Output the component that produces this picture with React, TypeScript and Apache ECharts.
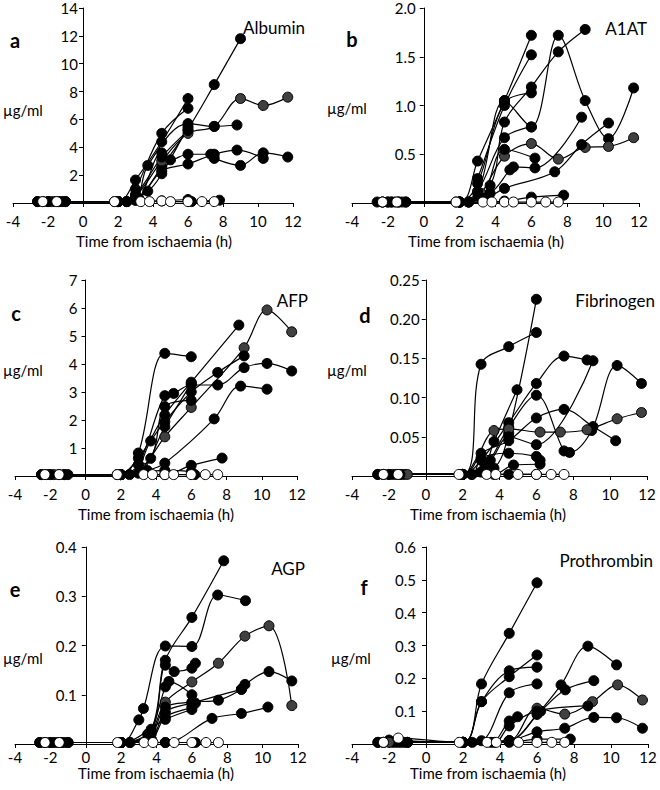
import React, { useEffect, useRef } from "react";
import * as echarts from "echarts";

type Pt = [number, number];

// ---- data (time from ischaemia in h, concentration in µg/ml) ----
const timeTicks = [-4, -2, 0, 2, 4, 6, 8, 10, 12];

const albuminLines: Pt[][] = [
  [[-2.6, 0.1], [-1.4, 0.1], [2, 0.1], [3, 1.65], [4.5, 4.4], [6, 7.5]],
  [[-2.3, 0.1], [-1, 0.1], [2.5, 0.1], [3, 1.0], [4.5, 5.0], [6, 6.8]],
  [[-2, 0.1], [1.8, 0.1], [3, 0.3], [4.5, 2.6], [6, 5.3], [7.5, 8.5], [9, 11.8]],
  [[-1.8, 0.1], [2, 0.1], [3, 0.5], [4.5, 3.0], [6, 5.0], [7.5, 5.5], [9, 7.5], [10.3, 7.0], [11.7, 7.6]],
  [[-1.6, 0.1], [2, 0.1], [3, 0.2], [3.7, 2.7], [6, 5.7], [7.5, 5.5], [8.8, 5.6]],
  [[-1.2, 0.1], [2.5, 0.1], [3.2, 0.3], [4.5, 3.6], [5, 3.1], [6, 3.5], [7.3, 3.5], [7.5, 3.2], [9, 2.7], [10.3, 3.6], [11.7, 3.3]],
  [[-2.6, 0.1], [2, 0.1], [3, 0.2], [4.5, 2.3], [6, 2.8], [7.5, 3.5], [8.8, 3.8], [10.3, 3.2]],
  [[-2, 0.1], [2, 0.1], [3.7, 0.85], [4.5, 2.1], [6, 5.5]],
  [[-1.4, 0.1], [2, 0.1], [3, 0.6], [4.5, 3.3], [6, 5.2]],
  [[-1, 0.1], [2.5, 0.1], [4.5, 0.15], [6, 0.25], [6.2, 0.1], [7.8, 0.2]],
];
const albuminGrey = [3];
const albuminOpen: Pt[] = [[-2.3, 0.1], [-1.5, 0.1], [1.8, 0.1], [3.3, 0.1], [3.8, 0.1], [4.5, 0.15], [5, 0.1], [6, 0.1], [6.8, 0.1], [7.5, 0.1]];

const a1atLines: Pt[][] = [
  [[-2.6, 0.01], [-1.4, 0.01], [2, 0.01], [3, 0.43], [4.5, 1.05], [6, 1.72]],
  [[-2.3, 0.01], [-1, 0.01], [2.5, 0.01], [3, 0.25], [4.5, 1.0], [6, 1.52]],
  [[-2, 0.01], [1.8, 0.01], [3, 0.1], [4.5, 1.05], [6, 0.78], [7.5, 1.72], [9, 1.05], [10.3, 0.66], [11.7, 1.18]],
  [[-1.8, 0.01], [2, 0.01], [3, 0.2], [4.5, 1.03], [6, 1.13]],
  [[-1.6, 0.01], [2, 0.01], [3.7, 0.18], [4.5, 0.83], [6, 1.19], [7.5, 1.55], [9, 1.78]],
  [[-1.2, 0.01], [2.5, 0.01], [3.2, 0.1], [4.5, 0.48], [6, 0.61], [7.5, 0.45], [9, 0.57], [10.3, 0.58], [11.7, 0.67]],
  [[-2, 0.01], [2, 0.01], [3.2, 0.05], [4.5, 0.55], [6.2, 0.46]],
  [[-1.4, 0.01], [2, 0.01], [3.7, 0.1], [4.8, 0.34], [5, 0.37], [6.2, 0.36], [8.8, 0.88]],
  [[-1, 0.01], [2, 0.01], [3.5, 0.05], [4.5, 0.15], [7.3, 0.32], [8.8, 0.6], [10.3, 0.82]],
  [[-1.8, 0.01], [2, 0.01], [3, 0.12], [4.5, 0.67], [6, 0.78]],
  [[-2.3, 0.01], [2.5, 0.01], [4.5, 0.02], [6, 0.06], [7.8, 0.08]],
];
const a1atGrey = [5];
const a1atOpen: Pt[] = [[-2.3, 0.01], [-1.5, 0.01], [1.8, 0.01], [3.3, 0.01], [3.8, 0.01], [4.5, 0.01], [5, 0.01], [6, 0.01], [6.8, 0.01], [7.5, 0.01]];

const afpLines: Pt[][] = [
  [[-2.5, 0.05], [-1.5, 0.05], [2, 0.05], [3, 0.82], [4.5, 4.38], [6, 4.26]],
  [[-2, 0.05], [1.8, 0.05], [3, 0.63], [4.5, 2.18], [6, 3.35], [8.7, 5.39]],
  [[-1.8, 0.05], [2, 0.05], [3.2, 0.3], [4.5, 1.4], [6, 2.45], [9, 4.58], [10.3, 5.93], [11.7, 5.15]],
  [[-1.2, 0.05], [2.5, 0.05], [3.7, 1.25], [4.5, 1.94], [6, 3.0], [7.5, 3.7], [9, 4.29]],
  [[-1, 0.05], [2, 0.05], [3, 0.4], [4.5, 2.87], [5, 2.95], [6, 3.25], [7.5, 3.25], [9, 3.87], [10.3, 4.02], [11.7, 3.75]],
  [[-2.2, 0.05], [2, 0.05], [3.5, 0.2], [4.5, 0.46], [7.3, 2.04], [8.8, 3.21], [10.3, 3.1]],
  [[-1.5, 0.05], [2, 0.05], [3.7, 0.63], [4.5, 2.48], [6, 2.7]],
  [[-2.5, 0.05], [2, 0.05], [3, 0.1], [4.5, 1.76], [6, 3.3]],
  [[-2, 0.05], [2, 0.05], [4.5, 0.05], [6, 0.38], [7.75, 0.64]],
  [[-1.2, 0.05], [2, 0.05], [4.5, 0.2], [6, 0.15], [6.2, 0.05]],
];
const afpGrey = [2];
const afpOpen: Pt[] = [[-2.3, 0.05], [-1.5, 0.05], [1.8, 0.05], [3.3, 0.05], [3.8, 0.05], [4.5, 0.05], [5, 0.05], [6, 0.05], [6.8, 0.05], [7.5, 0.05]];

const fibrinogenLines: Pt[][] = [
  [[-2.6, 0.002], [-1.4, 0.002], [2, 0.002], [3, 0.1425], [4.5, 0.165], [6, 0.183]],
  [[-2.3, 0.002], [2, 0.002], [3.7, 0.01], [4.5, 0.055], [6, 0.2254]],
  [[-2, 0.002], [2, 0.002], [3, 0.005], [3.7, 0.044], [4.95, 0.11]],
  [[-1.8, 0.002], [2, 0.002], [3, 0.02], [4.5, 0.068], [6, 0.118], [7.5, 0.153], [8.75, 0.148]],
  [[-1.6, 0.002], [2.5, 0.002], [3.2, 0.01], [4.5, 0.062], [6, 0.103], [7.5, 0.032], [7.8, 0.03], [9, 0.058], [10.38, 0.141], [11.7, 0.118]],
  [[-1.2, 0.002], [2, 0.002], [3, 0.029], [4.5, 0.045], [6, 0.074], [7.5, 0.085], [9.07, 0.063], [10.3, 0.045]],
  [[-1, 0.002], [2, 0.002], [3.7, 0.058], [4.5, 0.06], [6.2, 0.056], [7.3, 0.056], [8.75, 0.059], [10.38, 0.073], [11.7, 0.081]],
  [[-2.6, 0.002], [2, 0.002], [3.5, 0.02], [4.5, 0.05], [6, 0.04], [9.07, 0.147]],
  [[-2, 0.002], [2.5, 0.002], [3, 0.023], [4.5, 0.029], [6, 0.025], [6.2, 0.02]],
  [[-1.4, 0.002], [2, 0.002], [3.7, 0.002], [4.76, 0.014], [6.2, 0.015]],
  [[-2.3, 0.002], [2, 0.002], [4.5, 0.002], [6, 0.002]],
];
const fibrinogenGrey = [6];
const fibrinogenOpen: Pt[] = [[-2.3, 0.002], [-1.5, 0.002], [1.8, 0.002], [3.3, 0.002], [3.8, 0.002], [5, 0.002], [6, 0.002], [6.8, 0.002], [7.5, 0.002]];

const agpLines: Pt[][] = [
  [[-2.6, 0.003], [-1.4, 0.003], [2, 0.003], [3, 0.049], [3.26, 0.072], [4.5, 0.199], [6, 0.198], [7.46, 0.3025], [9.03, 0.291]],
  [[-2.3, 0.003], [-1, 0.003], [2, 0.003], [3.7, 0.025], [4.5, 0.17], [6, 0.257], [7.8, 0.372]],
  [[-2, 0.003], [2.5, 0.003], [3.5, 0.01], [4.5, 0.085], [6, 0.126], [7.5, 0.164], [9, 0.219], [10.36, 0.24], [11.65, 0.078]],
  [[-1.8, 0.003], [2, 0.003], [3.7, 0.03], [4.5, 0.16], [5, 0.147], [6, 0.154], [6.2, 0.164]],
  [[-1.6, 0.003], [2, 0.003], [3.5, 0.02], [4.5, 0.116], [4.7, 0.127], [6, 0.1]],
  [[-1.2, 0.003], [2, 0.003], [3.7, 0.02], [4.5, 0.075], [6, 0.085], [7.5, 0.089], [8.8, 0.111], [9, 0.121], [10.36, 0.147], [11.65, 0.128]],
  [[-2.6, 0.003], [2.5, 0.003], [3.7, 0.01], [4.5, 0.065], [6, 0.083], [8.8, 0.111]],
  [[-2, 0.003], [2, 0.003], [4.5, 0.003], [7.14, 0.052], [8.8, 0.062], [10.3, 0.075]],
  [[-1.4, 0.003], [2, 0.003], [3.7, 0.01], [4.5, 0.055], [6, 0.075], [6.2, 0.083]],
  [[-1, 0.003], [2, 0.003], [4.5, 0.05], [6, 0.07]],
  [[-2.3, 0.003], [2, 0.003], [4.5, 0.003], [6.2, 0.003]],
];
const agpGrey = [2];
const agpOpen: Pt[] = [[-2.3, 0.003], [-1.5, 0.003], [1.8, 0.003], [3.3, 0.003], [3.8, 0.003], [5, 0.003], [6, 0.003], [6.8, 0.003], [7.5, 0.003]];

const prothrombinLines: Pt[][] = [
  [[-2.6, 0.005], [-1.4, 0.008], [2, 0.005], [3, 0.183], [4.5, 0.337], [6, 0.491]],
  [[-2.3, 0.005], [-1, 0.005], [2, 0.005], [3, 0.129], [4.5, 0.223], [6, 0.234]],
  [[-2, 0.012], [2, 0.005], [3, 0.129], [4.5, 0.205], [6, 0.271]],
  [[-1.8, 0.005], [2, 0.005], [3, 0.01], [4.5, 0.156], [6, 0.183]],
  [[-1.6, 0.005], [2.5, 0.005], [4.5, 0.01], [6, 0.09], [7.3, 0.18], [8.75, 0.298], [10.3, 0.241]],
  [[-1.2, 0.005], [2, 0.005], [3.5, 0.005], [4.5, 0.07], [4.95, 0.083]],
  [[-2.6, 0.005], [2, 0.005], [4.5, 0.01], [6.2, 0.1], [7.53, 0.165], [9.07, 0.193]],
  [[-2, 0.005], [2, 0.005], [4.5, 0.01], [6, 0.109], [7.5, 0.091], [9, 0.129], [10.36, 0.18], [11.7, 0.134]],
  [[-1.4, 0.005], [2, 0.005], [3.7, 0.005], [4.5, 0.055], [6, 0.1], [8.75, 0.116]],
  [[-1, 0.005], [2, 0.005], [4.5, 0.01], [6, 0.037], [7.5, 0.048], [9.07, 0.081], [10.3, 0.08], [11.7, 0.048]],
  [[-2.3, 0.005], [2, 0.005], [4.5, 0.005], [6, 0.015], [7.8, 0.015]],
];
const prothrombinGrey = [7];
const prothrombinOpen: Pt[] = [[-2.3, 0.005], [-1.5, 0.018], [1.8, 0.005], [3.3, 0.005], [3.8, 0.005], [5, 0.005], [6, 0.005], [6.8, 0.005], [7.5, 0.005]];

const yMaxes = [14, 2, 7, 0.25, 0.4, 0.6];
const yIntervals = [2, 0.5, 1, 0.05, 0.1, 0.1];
const yDecimals = [0, 1, 0, 2, 1, 1];
const panelLetters = ["a", "b", "c", "d", "e", "f"];
const panelTitles = ["Albumin", "A1AT", "AFP", "Fibrinogen", "AGP", "Prothrombin"];
const unitLabel = "µg/ml";
const xAxisTitle = "Time from ischaemia (h)";

// ---- layout ----
const FONT = "Lato, 'Open Sans', sans-serif";
const GRIDS = [
  { left: 13, top: 8, width: 280, height: 195 },
  { left: 352, top: 8, width: 287, height: 195 },
  { left: 15, top: 280, width: 282, height: 196 },
  { left: 352, top: 280, width: 295, height: 196 },
  { left: 15, top: 547, width: 283, height: 197 },
  { left: 352, top: 547, width: 296, height: 197 },
];
const LETTER_POS = [[15, 30], [352, 29], [16, 303], [365, 305], [15, 579], [364, 577]];
const TITLE_POS = [[305, 19], [647, 20], [308, 292], [655, 292], [305, 560], [653, 552]];
const UNIT_POS = [[3, 110], [327, 108], [3, 370], [327, 370], [3, 658], [331, 658]];
const XNAME_POS = [[154, 241], [486, 241], [156, 514], [488, 514], [156, 773], [488, 773]];
const XLABEL_MARGIN = [10, 10, 10, 10, 5, 5];
const YLABEL_MARGIN = [5, 8, 8, 6, 9, 10];

export default function App() {
  const ref = useRef<HTMLDivElement>(null);
  useEffect(() => {
    if (!ref.current) return;
    const chart = echarts.init(ref.current, undefined, { renderer: "svg" });
    const allLines = [albuminLines, a1atLines, afpLines, fibrinogenLines, agpLines, prothrombinLines];
    const allGrey = [albuminGrey, a1atGrey, afpGrey, fibrinogenGrey, agpGrey, prothrombinGrey];
    const allOpen = [albuminOpen, a1atOpen, afpOpen, fibrinogenOpen, agpOpen, prothrombinOpen];
    const xMin = timeTicks[0];
    const xMax = timeTicks[timeTicks.length - 1];

    const grid = GRIDS.map((g) => ({ ...g, containLabel: false, outerBoundsMode: "none" }));
    const xAxis = GRIDS.map((_, i) => ({
      gridIndex: i,
      type: "value",
      min: xMin,
      max: xMax,
      interval: 2,
      axisLine: { show: true, onZero: true, lineStyle: { color: "#000", width: 1 } },
      axisTick: { show: true, length: 4, lineStyle: { color: "#000", width: 1 } },
      axisLabel: { color: "#000", fontSize: 15, fontFamily: FONT, margin: XLABEL_MARGIN[i], hideOverlap: false },
      splitLine: { show: false },
    }));
    const yAxis = GRIDS.map((g, i) => ({
      gridIndex: i,
      type: "value",
      position: "left",
      // place the y axis (line and labels) at time 0
      offset: -(g.width * (0 - xMin)) / (xMax - xMin),
      min: 0,
      max: yMaxes[i],
      interval: yIntervals[i],
      axisLine: { show: true, onZero: false, lineStyle: { color: "#000", width: 1 } },
      axisTick: { show: true, length: 4, lineStyle: { color: "#000", width: 1 } },
      axisLabel: {
        color: "#000",
        fontSize: 15,
        fontFamily: FONT,
        margin: YLABEL_MARGIN[i],
        showMinLabel: false,
        hideOverlap: false,
        formatter: (v: number) => v.toFixed(yDecimals[i]),
      },
      splitLine: { show: false },
    }));

    const series: any[] = [];
    allLines.forEach((lines, i) => {
      lines.forEach((data, j) => {
        const grey = allGrey[i].includes(j);
        series.push({
          type: "line",
          xAxisIndex: i,
          yAxisIndex: i,
          data,
          smooth: 0.35,
          symbol: "circle",
          symbolSize: 10,
          showSymbol: true,
          clip: false,
          lineStyle: { color: "#000", width: 1.2 },
          itemStyle: { color: grey ? "#404040" : "#000", borderColor: "#000", borderWidth: 1 },
          emphasis: { disabled: true },
          silent: true,
        });
      });
      series.push({
        type: "line",
        xAxisIndex: i,
        yAxisIndex: i,
        data: allOpen[i],
        smooth: 0.35,
        symbol: "circle",
        symbolSize: 10,
        showSymbol: true,
        clip: false,
        lineStyle: { color: "#000", width: 1.2 },
        itemStyle: { color: "#fff", borderColor: "#000", borderWidth: 1 },
        emphasis: { disabled: true },
        silent: true,
      });
    });

    const graphic: any[] = [];
    for (let i = 0; i < 6; i++) {
      graphic.push({
        type: "text",
        x: LETTER_POS[i][0],
        y: LETTER_POS[i][1],
        style: { text: panelLetters[i], font: `bold 20px ${FONT}`, fill: "#000", align: "center", verticalAlign: "alphabetic", textAlign: "center", textVerticalAlign: "alphabetic" },
      });
      graphic.push({
        type: "text",
        x: TITLE_POS[i][0],
        y: TITLE_POS[i][1],
        style: { text: panelTitles[i], font: `17px ${FONT}`, fill: "#000", align: "right", verticalAlign: "alphabetic", textAlign: "right", textVerticalAlign: "alphabetic" },
      });
      graphic.push({
        type: "text",
        x: UNIT_POS[i][0],
        y: UNIT_POS[i][1],
        style: { text: unitLabel, font: `15px ${FONT}`, fill: "#000", align: "left", verticalAlign: "middle", textAlign: "left", textVerticalAlign: "middle" },
      });
      graphic.push({
        type: "text",
        x: XNAME_POS[i][0],
        y: XNAME_POS[i][1],
        style: { text: xAxisTitle, font: `15px ${FONT}`, fill: "#000", align: "center", verticalAlign: "middle", textAlign: "center", textVerticalAlign: "middle" },
      });
    }

    chart.setOption({
      animation: false,
      backgroundColor: "#fff",
      grid,
      xAxis,
      yAxis,
      series,
      graphic,
    });
    return () => chart.dispose();
  }, []);
  return <div ref={ref} style={{ position: "absolute", left: 0, top: 0, width: 660, height: 790 }} />;
}
